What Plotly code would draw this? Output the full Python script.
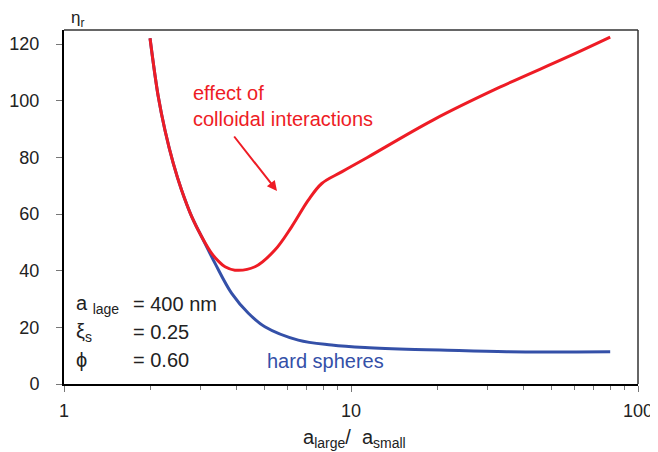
import plotly.graph_objects as go

# data
red_x = [1.994, 2.131, 2.248, 2.403, 2.568, 2.786, 3.018, 3.27, 3.45, 3.64, 3.94, 4.63, 5.43, 6.21, 7.10, 7.91, 9.28, 11.4, 19.3, 33.0, 56.6, 80.0]
red_y = [122.1, 101.4, 89.6, 77.9, 68.5, 59.1, 52.0, 46.1, 43.4, 41.4, 40.2, 41.4, 47.3, 55.5, 64.9, 70.8, 74.9, 80.0, 93.2, 104.8, 115.4, 122.5]

blue_x = [1.994, 2.131, 2.248, 2.403, 2.568, 2.786, 3.018, 3.36, 3.84, 4.39, 5.01, 6.55, 8.56, 11.19, 16.7, 20.4, 34.9, 80.0]
blue_y = [122.1, 101.4, 89.6, 77.9, 68.5, 59.1, 52.0, 42.6, 32.0, 25.0, 20.2, 15.5, 13.8, 12.9, 12.2, 12.0, 11.4, 11.4]

y_ticks = [0, 20, 40, 60, 80, 100, 120]
x_ticks = [1, 10, 100]
x_minor = [2, 3, 4, 5, 6, 7, 8, 9, 20, 30, 40, 50, 60, 70, 80, 90]

RED = "#ee1c25"
BLUE = "#3450a8"
FONT = "Liberation Sans, Arial, sans-serif"

fig = go.Figure()
fig.add_trace(go.Scatter(x=blue_x, y=blue_y, mode="lines",
                         line=dict(color=BLUE, width=3, shape="spline", smoothing=1.0),
                         showlegend=False, hoverinfo="skip"))
fig.add_trace(go.Scatter(x=red_x, y=red_y, mode="lines",
                         line=dict(color=RED, width=3, shape="spline", smoothing=1.0),
                         showlegend=False, hoverinfo="skip"))

# page body has an 8px default margin, so the figure is offset by 8px
fig.update_layout(
    width=650, height=444,
    margin=dict(l=56, r=20, t=22, b=68),
    paper_bgcolor="white", plot_bgcolor="white",
    font=dict(family=FONT, size=18, color="#222"),
    xaxis=dict(type="log", range=[0, 2], tickvals=x_ticks, ticktext=[str(v) for v in x_ticks],
               automargin=False,
               showgrid=False, zeroline=False, showline=True, linecolor="black", linewidth=2,
               ticks="outside", ticklen=6, tickcolor="#777", tickwidth=1,
               minor=dict(ticks="outside", ticklen=4, tickcolor="#777", tickwidth=1,
                          tickvals=x_minor, showgrid=False),
               ticklabelstandoff=3),
    yaxis=dict(range=[0, 125], tickvals=y_ticks, showgrid=False, zeroline=False,
               automargin=False,
               showline=True, linecolor="black", linewidth=2,
               ticks="outside", ticklen=6, tickcolor="#777", tickwidth=1,
               ticklabelstandoff=13),
)

# top/right frame
fig.add_shape(type="line", xref="paper", yref="paper", x0=0, x1=1, y0=1, y1=1,
              line=dict(color="#333", width=1.5))
fig.add_shape(type="line", xref="paper", yref="paper", x0=1, x1=1, y0=0, y1=1,
              line=dict(color="#333", width=1.5))

def px2paper(px, py):
    return (px - 64) / 574, (384 - py) / 354

ann = []
xx, yy = px2paper(70, 19)
ann.append(dict(text="η<sub>r</sub>", x=xx, y=yy, xanchor="left", yanchor="middle",
                borderpad=0, font=dict(size=17)))
xx, yy = px2paper(191, 106)
ann.append(dict(text="effect of<br>colloidal interactions", x=xx, y=yy, xanchor="left", yanchor="middle",
                align="left", font=dict(size=20, color=RED)))
xx, yy = px2paper(265, 361)
ann.append(dict(text="hard spheres", x=xx, y=yy, xanchor="left", yanchor="middle",
                font=dict(size=20, color=BLUE)))
for label, val, py in [("a <sub>lage</sub>", "= 400 nm", 304), ("ξ<sub>s</sub>", "= 0.25", 332), ("ϕ", "= 0.60", 360)]:
    xx, yy = px2paper(74, py)
    ann.append(dict(text=label, x=xx, y=yy, xanchor="left", yanchor="middle", font=dict(size=20)))
    xx, yy = px2paper(131, py)
    ann.append(dict(text=val, x=xx, y=yy, xanchor="left", yanchor="middle", font=dict(size=20)))
xx, yy = px2paper(354, 438)
ann.append(dict(text="a<sub>large</sub>/  a<sub>small</sub>", x=xx, y=yy, xanchor="center", yanchor="middle",
                font=dict(size=20)))
for a in ann:
    a.update(xref="paper", yref="paper", showarrow=False)
    fig.add_annotation(**a)

# arrow
tx, ty = px2paper(277, 191)
fig.add_annotation(xref="paper", yref="paper", x=tx, y=ty, ax=-44, ay=-56, text="",
                   showarrow=True, arrowhead=2, arrowsize=1, arrowwidth=2, arrowcolor=RED)

fig.write_html("out.html")
